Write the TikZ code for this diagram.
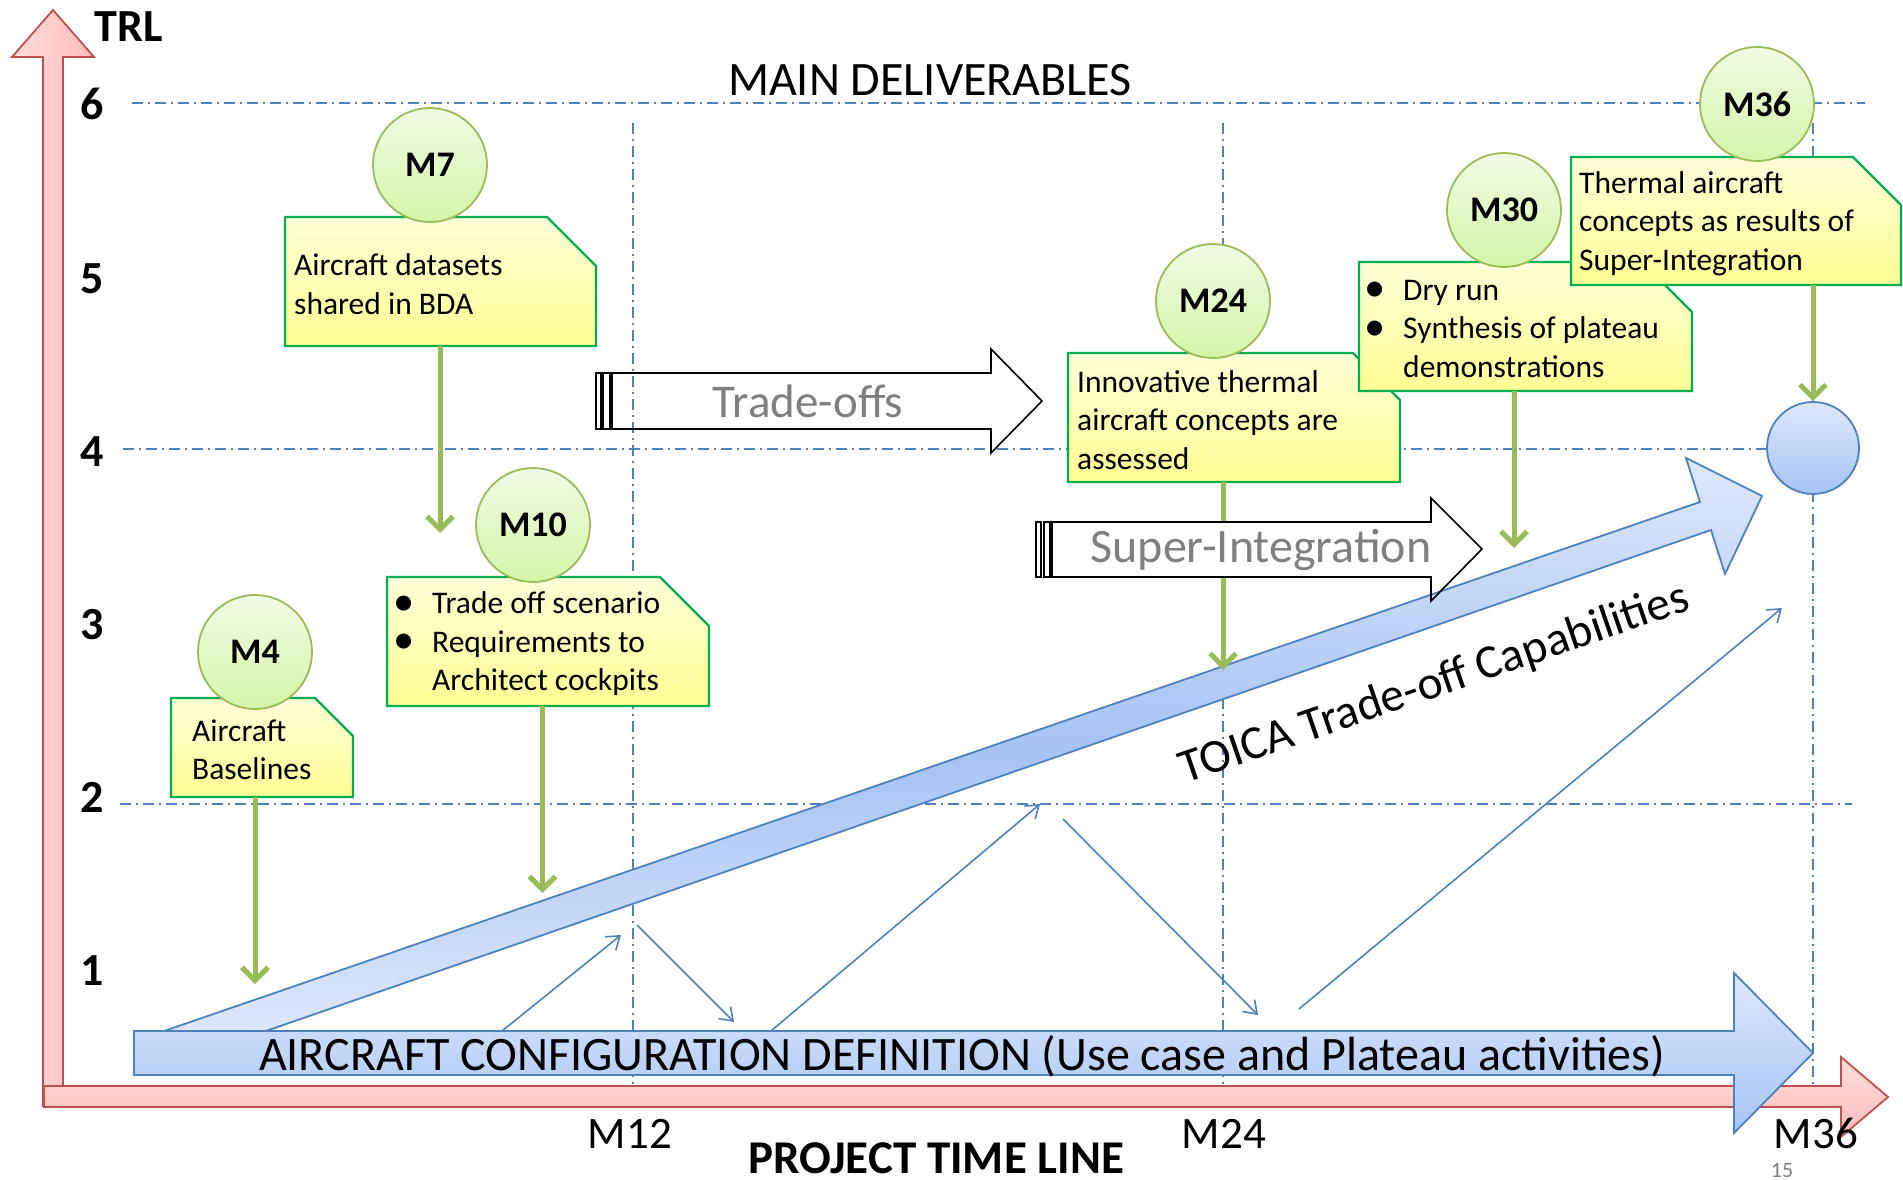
\documentclass[tikz,border=0pt]{standalone}
\usepackage{fontspec}
\usepackage{graphicx}
\setmainfont{Carlito}
\usetikzlibrary{arrows.meta}

\definecolor{gridblue}{HTML}{4F81BD}
\definecolor{axisred}{HTML}{C0504D}
\definecolor{axislight}{HTML}{FFDCDC}
\definecolor{axisdeep}{HTML}{FFBCBC}
\definecolor{leafline}{HTML}{9BBB59}
\definecolor{leaflight}{HTML}{F1FAE4}
\definecolor{leafdeep}{HTML}{D4F5A8}
\definecolor{noteline}{HTML}{00B050}
\definecolor{notelight}{HTML}{FFFFD8}
\definecolor{notedeep}{HTML}{FFFF94}
\definecolor{skylight}{HTML}{DEE8FB}
\definecolor{skydeep}{HTML}{A5C3F5}
\definecolor{labelgray}{HTML}{7F7F7F}

\newcommand\fsz[2]{\fontsize{#1}{#2}\selectfont}
\newcommand\bul{\makebox[31pt][l]{\kern-8pt\raisebox{-1.5pt}{\scalebox{1.35}{\textbullet}}}}
\newcommand\ind{\makebox[31pt][l]{}}

\tikzset{
  gridline/.style={gridblue, line width=1.6pt, dash pattern=on 11pt off 5pt on 2pt off 5pt},
  axisarrow/.style={draw=axisred, line width=1.8pt},
  milestone/.style={circle, draw=leafline, line width=1.8pt, top color=leaflight,
    bottom color=leafdeep, minimum size=114pt, inner sep=0pt, font=\fsz{36}{43}\bfseries},
  slot/.style={rectangle, inner sep=0pt, outer sep=0pt, anchor=north west},
  noteshape/.style={draw=noteline, line width=2.2pt, top color=notelight, bottom color=notedeep},
  notetext/.style={anchor=west, align=left, inner sep=0pt, font=\fsz{31.5}{38.5}},
  feed/.style={leafline, line width=5pt, -{Straight Barb[length=13pt,width=26pt]}},
  flow/.style={gridblue, line width=1.6pt, -{Straight Barb[length=12pt,width=17pt]}},
  outlinearrow/.style={draw=black, line width=1.6pt, line join=miter},
  skyshape/.style={draw=gridblue, line width=1.8pt, top color=skylight, bottom color=skydeep},
  axistxt/.style={anchor=base, inner sep=0pt, font=\fsz{46}{55}\bfseries},
  ticktxt/.style={anchor=base, inner sep=0pt, font=\fsz{45}{54}},
  bigtxt/.style={anchor=base, inner sep=0pt, font=\fsz{47}{56}},
  graytxt/.style={bigtxt, text=labelgray},
}

% note box: name, x, y (top left), width, height, corner cut, text indent, text
\newcommand\notebox[8]{%
  \node[slot, minimum width=#4pt, minimum height=#5pt] (#1) at (#2,#3) {};
  \path[noteshape] (#1.north west) -- ([xshift=-#6pt]#1.north east)
    -- ([yshift=-#6pt]#1.north east) -- (#1.south east) -- (#1.south west) -- cycle;
  \node[notetext] (#1txt) at ([xshift=#7pt, yshift=-2.5pt]#1.west) {#8};
}

\begin{document}
\begin{tikzpicture}[x=1pt,y=-1pt]
\useasboundingbox[fill=white] (0,0) rectangle (1903,1180);

% TRL levels and month grid
\draw[gridline] (132,103) -- (1865,103);
\draw[gridline] (123,449) -- (1813,449);
\draw[gridline] (120,804) -- (1852,804);
\draw[gridline] (633,123) -- (633,1086);
\draw[gridline] (1223,123) -- (1223,1086);
\draw[gridline] (1813,123) -- (1813,1086);

% axes
\path[axisarrow, left color=axislight, right color=axisdeep]
  (43,1106) -- (43,57) -- (12,57) -- (53,10) -- (94,57) -- (63,57) -- (63,1106) -- cycle;
\path[axisarrow, top color=axislight, bottom color=axisdeep]
  (44,1086) -- (1841,1086) -- (1841,1057) -- (1888,1097) -- (1841,1137) -- (1841,1107) -- (44,1107) -- cycle;

% Trade-offs striped arrow (outline only)
\draw[outlinearrow] (596,373) rectangle (601,429);
\draw[outlinearrow] (603,373) rectangle (610,429);
\draw[outlinearrow] (612,373) -- (991,373) -- (991,349) -- (1042,401) -- (991,453) -- (991,429) -- (612,429) -- cycle;

% rising capability band
\path[skyshape, top color=skylight, bottom color=skylight, middle color=skydeep]
  (138,1040) -- (1700,502) -- (1686,458) -- (1762,496) -- (1725,574) -- (1711,530) -- (240,1040) -- cycle;

% configuration definition bar
\path[skyshape] (134,1031) -- (1734,1031) -- (1734,973) -- (1813,1053) -- (1734,1133) -- (1734,1075) -- (134,1075) -- cycle;
\node[bigtxt, font=\fsz{48}{58}] (acd) at (962,1070) {AIRCRAFT CONFIGURATION DEFINITION (Use case and Plateau activities)};

% iteration arrows
\coordinate (p1s) at (502,1031); \coordinate (p1e) at (621,935);
\coordinate (p2s) at (637,925);  \coordinate (p2e) at (734,1022);
\coordinate (p3s) at (771,1031); \coordinate (p3e) at (1040,804);
\coordinate (p4s) at (1063,819); \coordinate (p4e) at (1258,1015);
\coordinate (p5s) at (1299,1009); \coordinate (p5e) at (1782,608);
\foreach \k in {1,...,5} \draw[flow] (p\k s) -- (p\k e);

% final TRL 4 target
\node[circle, draw=gridblue, line width=1.8pt, top color=skylight, bottom color=skydeep,
  minimum size=92pt, inner sep=0pt] (endc) at (1813,448) {};

% deliverables
\notebox{b7}{285}{217}{311}{129}{49}{9}{Aircraft datasets\\shared in BDA}
\node[milestone] (m7) at (430,165) {M7};
\notebox{b10}{387}{577}{322}{129}{49}{14}{\bul Trade off scenario\\\bul Requirements to\\\ind Architect cockpits}
\node[milestone] (m10) at (533,525) {M10};
\notebox{b4}{171}{698}{182}{99}{38}{21}{Aircraft\\Baselines}
\node[milestone] (m4) at (255,652) {M4};
\notebox{b24}{1068}{353}{332}{129}{47}{9}{Innovative thermal\\aircraft concepts are\\assessed}
\node[milestone] (m24) at (1213,301) {M24};
\notebox{b30}{1359}{262}{333}{129}{50}{13}{\bul Dry run\\\bul Synthesis of plateau\\\ind demonstrations}
\node[milestone] (m30) at (1504,210) {M30};
\notebox{b36}{1571}{157}{330}{128}{48}{8}{Thermal aircraft\\concepts as results of\\Super-Integration}
\node[milestone] (m36) at (1757,104) {M36};

% deliverable feeds
\coordinate (f7) at (440,533);
\coordinate (f10) at (542.5,893);
\coordinate (f4) at (255,984);
\coordinate (f24) at (1223,670);
\coordinate (f30) at (1514,548);
\draw[feed] (b7.south -| f7) -- (f7);
\draw[feed] (b10.south -| f10) -- (f10);
\draw[feed] (b4.south -| f4) -- (f4);
\draw[feed] (b24.south -| f24) -- (f24);
\draw[feed] (b30.south -| f30) -- (f30);
\draw[feed] (b36.south -| endc.north) -- (endc.north);

% Super-Integration striped arrow
\fill[white] (1052,522) rectangle (1431,577);
\draw[outlinearrow, fill=white] (1036,522) rectangle (1041,577);
\draw[outlinearrow, fill=white] (1044,522) rectangle (1050,577);
\draw[outlinearrow] (1052,522) -- (1431,522) -- (1431,498) -- (1482,549) -- (1431,601) -- (1431,577) -- (1052,577) -- cycle;

% texts
\node[graytxt] (tradeoffs) at (808,417) {Trade-offs};
\node[graytxt, font=\fsz{48}{58}] (superint) at (1261,562) {Super-Integration};
\node[bigtxt, anchor=base west, rotate=19, font=\fsz{47.5}{57}] (toica) at (1185,784) {TOICA Trade-off Capabilities};
\node[bigtxt, font=\fsz{48}{58}] (deliv) at (930,96) {MAIN DELIVERABLES};
\node[axistxt] (trl) at (128.5,42) {TRL};
\foreach \v/\yb in {6/120,5/293,4/466,3/639,2/812,1/985}
  \node[axistxt] (trl\v) at (92,\yb) {\v};
\node[ticktxt] (t12) at (630,1148) {M12};
\node[ticktxt] (t24) at (1224,1148) {M24};
\node[ticktxt] (t36) at (1816,1148) {M36};
\node[axistxt, font=\fsz{47}{56}\bfseries] (ptl) at (936,1173) {PROJECT TIME LINE};
\node[anchor=base, inner sep=0pt, font=\fsz{22}{26}, text=labelgray] (pgno) at (1782,1177) {15};
\end{tikzpicture}
\end{document}
